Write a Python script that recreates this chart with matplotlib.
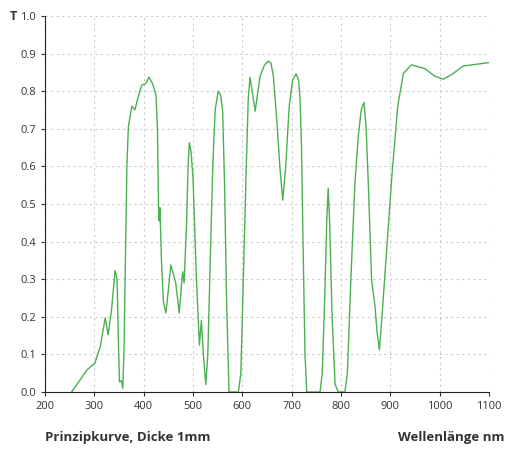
import matplotlib
matplotlib.use("Agg")
import matplotlib.pyplot as plt

wavelength = [254, 270, 284.5, 301, 312, 322, 328, 335, 342, 346, 349, 351, 355, 357.5, 360, 363, 366, 369, 376, 382, 390, 396, 404, 411, 418, 425,
              428, 430, 431, 433, 436, 440, 445, 450, 455, 465, 472, 479, 482, 487, 490, 492.5, 496, 500, 507, 513, 517, 521, 526, 530, 535, 540, 545, 551, 556, 560,
              564, 568, 573, 580, 592, 597, 602, 608, 612, 615.6, 620, 626, 636, 645, 652.7, 658, 663, 670, 676, 682, 688, 695, 702, 709, 714, 717, 720, 723, 727, 730.5, 740, 757.5, 762, 767, 771, 774,
              777, 782, 788, 794.6, 801, 808, 813, 820, 828, 835, 841, 846.7, 851, 855.5, 862, 869, 873, 877.8, 883, 890, 897, 903, 915, 926.5, 943, 970, 990, 1007.5, 1025, 1048, 1100]
transmission = [0.0, 0.03, 0.058, 0.077, 0.12, 0.197, 0.152, 0.22, 0.323, 0.3, 0.12, 0.027, 0.03, 0.01, 0.1, 0.35, 0.6, 0.705, 0.76, 0.75, 0.79, 0.816, 0.82, 0.837, 0.82, 0.79,
                0.7, 0.50, 0.455, 0.49, 0.35, 0.24, 0.21, 0.27, 0.338, 0.29, 0.21, 0.32, 0.29, 0.45, 0.6, 0.663, 0.64, 0.57, 0.3, 0.125, 0.19, 0.1, 0.02, 0.1, 0.35, 0.6, 0.75, 0.8, 0.79, 0.75,
                0.55, 0.25, 0.0, 0.0, 0.0, 0.05, 0.3, 0.6, 0.78, 0.837, 0.8, 0.747, 0.84, 0.87, 0.88, 0.875, 0.84, 0.72, 0.6, 0.51, 0.6, 0.76, 0.83, 0.846, 0.83, 0.78, 0.65, 0.4, 0.1, 0.0, 0.0, 0.0, 0.05, 0.25, 0.45, 0.542,
                0.45, 0.2, 0.02, 0.0, 0.0, 0.0, 0.05, 0.3, 0.55, 0.68, 0.75, 0.77, 0.7, 0.55, 0.298, 0.227, 0.16, 0.112, 0.2, 0.33, 0.46, 0.573, 0.76, 0.848, 0.87, 0.86, 0.84, 0.832, 0.845, 0.867, 0.876]
x_ticks = [200, 300, 400, 500, 600, 700, 800, 900, 1000, 1100]
y_ticks = [0.0, 0.1, 0.2, 0.3, 0.4, 0.5, 0.6, 0.7, 0.8, 0.9, 1.0]

plt.rcParams['font.family'] = ['Open Sans', 'DejaVu Sans']
fig = plt.figure(figsize=(5.12, 4.49), dpi=100)
ax = fig.add_axes([45/512, 1-392/449, 444/512, 376/449])
ax.plot(wavelength, transmission, color='#4caf50', lw=1.0)
ax.set_xlim(200, 1100)
ax.set_ylim(0, 1.0)
ax.set_xticks(x_ticks)
ax.set_yticks(y_ticks)
ax.set_yticklabels([f"{v:.1f}" for v in y_ticks])
ax.tick_params(labelsize=8, colors='#333333', length=3)
ax.grid(True, linestyle=(0, (2, 3)), color='#cccccc', lw=0.8)
for s in ['top', 'right']:
    ax.spines[s].set_visible(False)
for s in ['left', 'bottom']:
    ax.spines[s].set_color('#222222')
fig.text(10/512, 1-16/449, 'T', fontsize=9, fontweight='bold', color='#333333', va='center')
fig.text(45/512, 1-437/449, 'Prinzipkurve, Dicke 1mm', fontsize=9.5, fontweight='bold', color='#333333', va='center')
fig.text(505/512, 1-437/449, 'Wellenlänge nm', fontsize=9.5, fontweight='bold', color='#333333', va='center', ha='right')
fig.savefig('out.png', dpi=100)
